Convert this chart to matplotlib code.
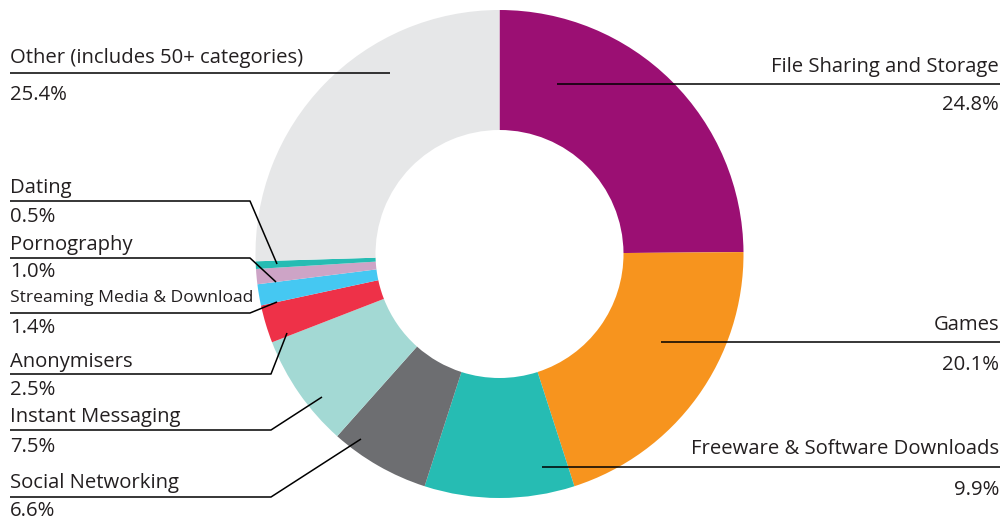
import matplotlib
matplotlib.use("Agg")
import matplotlib.pyplot as plt

plt.rcParams['font.family'] = ['Open Sans', 'DejaVu Sans']

categories = ["File Sharing and Storage", "Games", "Freeware & Software Downloads",
              "Social Networking", "Instant Messaging", "Anonymisers",
              "Streaming Media & Download", "Pornography", "Dating",
              "Other (includes 50+ categories)"]
shares = [24.8, 20.1, 9.9, 6.6, 7.5, 2.5, 1.4, 1.0, 0.5, 25.4]
colors = ["#9B0F73", "#F7941E", "#26BCB3", "#6D6E71", "#A3D9D4",
          "#EE3148", "#45C8F2", "#CDA4C6", "#26BCB3", "#E6E7E8"]

W, H = 1003, 517
cx, cy = 499.5, 254
r_out, r_in = 244, 124

# label layout in pixel coords (y down): side, line y, anchor in wedge, elbow x, name baseline, pct baseline
layout = {
    "File Sharing and Storage": ("r", 84, (557, 84), None, 72, 110),
    "Games": ("r", 342, (661, 342), None, 330, 370),
    "Freeware & Software Downloads": ("r", 467, (542, 467), None, 454, 495),
    "Social Networking": ("l", 497, (361, 439), 271, 488, 516),
    "Instant Messaging": ("l", 430, (322, 397), 271, 422, 452),
    "Anonymisers": ("l", 374, (287, 333), 271, 367, 395),
    "Streaming Media & Download": ("l", 313, (277, 302), 250, 302, 333),
    "Pornography": ("l", 258, (276, 282), 250, 250, 277),
    "Dating": ("l", 201, (277, 264), 250, 193, 222),
    "Other (includes 50+ categories)": ("l", 73, (390, 73), None, 63, 100),
}

fig = plt.figure(figsize=(W / 100, H / 100), dpi=100)
ax = fig.add_axes([0, 0, 1, 1])

ax.pie(shares, colors=colors, startangle=90, counterclock=False,
       center=(cx, H - cy), radius=r_out,
       wedgeprops=dict(width=r_out - r_in, linewidth=0))

ax.set_xlim(0, W)
ax.set_ylim(0, H)
ax.set_aspect('equal')
ax.axis('off')

fs = 14.6
txt = "#231F20"
for name, val in zip(categories, shares):
    side, ly, (ax_, ay), elbow, ny, py = layout[name]
    size = 12.6 if name.startswith("Streaming") else fs
    if side == "r":
        ax.plot([ax_, 1000], [H - ly, H - ly], color="black", lw=1.1, solid_capstyle="butt")
        ax.text(999, H - ny, name, ha="right", va="baseline", fontsize=fs, color=txt)
        ax.text(999, H - py, f"{val:.1f}%", ha="right", va="baseline", fontsize=fs, color=txt)
    else:
        if elbow is None:
            xs, ys = [10, ax_], [ly, ly]
        else:
            xs, ys = [10, elbow, ax_], [ly, ly, ay]
        ax.plot(xs, [H - y for y in ys], color="black", lw=1.1, solid_capstyle="butt")
        ax.text(10, H - ny, name, ha="left", va="baseline", fontsize=size, color=txt)
        ax.text(10, H - py, f"{val:.1f}%", ha="left", va="baseline", fontsize=fs, color=txt)

fig.savefig("out.png", dpi=100, facecolor="white")
